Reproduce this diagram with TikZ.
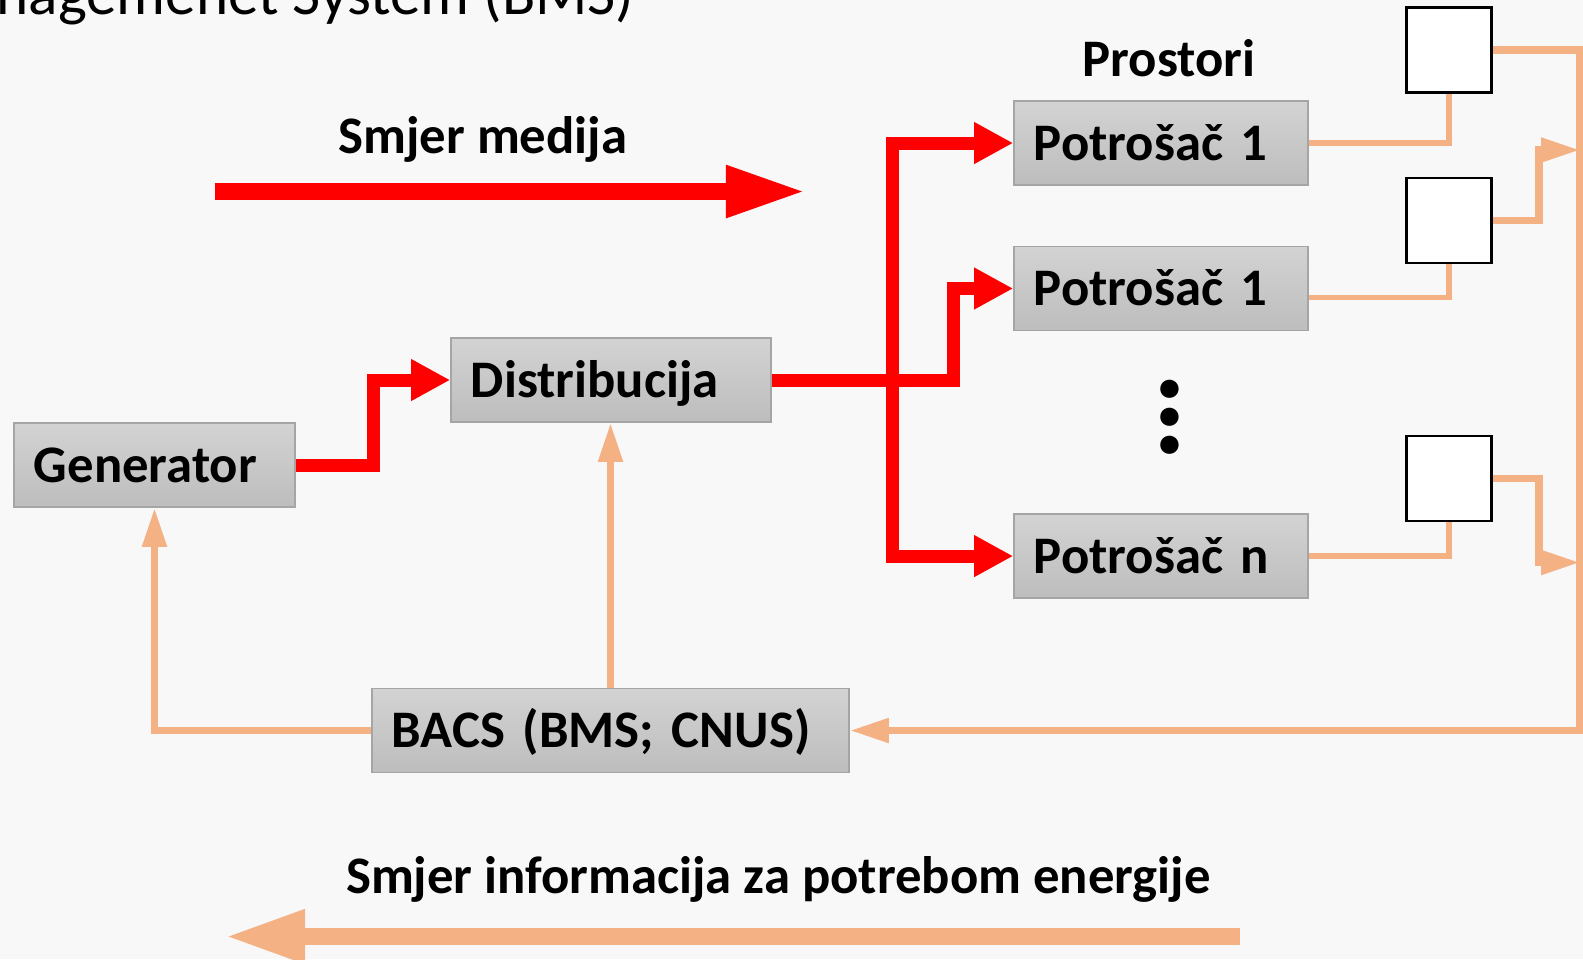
\documentclass[tikz,border=0pt]{standalone}
\usepackage{fontspec}
\setmainfont{Carlito}
\usetikzlibrary{arrows.meta,positioning}
\definecolor{flowred}{RGB}{255,0,0}
\definecolor{infoorange}{RGB}{244,177,131}
\definecolor{boxtop}{RGB}{211,211,211}
\definecolor{boxbottom}{RGB}{189,189,189}
\definecolor{boxedge}{RGB}{165,165,165}
\definecolor{slidebg}{RGB}{248,248,248}
\tikzset{
    block/.style =    {rectangle,
                      top color=boxtop,
                      bottom color=boxbottom,
                      draw=boxedge,
                      line width=0.4pt,
                      text=black,
                      font=\bfseries\fontsize{15}{18}\selectfont,
                      align=left,
                      minimum height=0.84cm,
                      inner xsep=0.2cm,
                      inner ysep=0pt,
                      text height=0.45cm,
                      text depth=0.11cm},
    room/.style =     {rectangle,
                      fill=white,
                      draw=black,
                      line width=0.8pt,
                      minimum size=0.85cm,
                      inner sep=0pt},
    caption/.style =  {font=\bfseries\fontsize{15}{18}\selectfont,
                      text=black,
                      anchor=base,
                      inner sep=0pt},
    heading/.style =  {font=\fontsize{17.4}{20}\selectfont,
                      text=black,
                      anchor=base west,
                      inner sep=0pt},
    flow/.style =     {draw=flowred,
                      line width=3.7pt,
                      line join=miter,
                      -{Triangle[length=11.1pt,width=11.1pt]}},
    info/.style =     {draw=infoorange,
                      line width=2.1pt,
                      line join=miter,
                      -{Triangle[length=11.1pt,width=6.6pt]}},
    infoline/.style = {draw=infoorange,
                      line width=1.55pt,
                      line join=miter},
    bigflow/.style =  {draw=flowred,
                      line width=4.8pt,
                      -{Triangle[length=22.8pt,width=13.7pt]}},
    biginfo/.style =  {draw=infoorange,
                      line width=4.8pt,
                      -{Triangle[length=22.8pt,width=14.2pt]}}
}
\begin{document}
\begin{tikzpicture}[x=0.01cm,y=-0.01cm]
    \useasboundingbox (0,0) rectangle (1583,959);
    \fill[slidebg] (0,0) rectangle (1583,959);

    \node[heading]  (title)  at (-4,14)        {nagemenet System (BMS)};
    \node[caption]  (medija) at (483,153)      {Smjer medija};
    \node[caption]  (prost)  at (1169,76)      {Prostori};
    \node[caption]  (infotx) at (778.5,893)    {Smjer informacija za potrebom energije};

    \node[block, text width=2.41cm] (gen)  at (154.5,465)  {Generator};
    \node[block, text width=2.80cm] (dist) at (611,380)    {Distribucija};
    \node[block, text width=4.37cm] (bacs) at (610.5,730.5) {BACS (BMS; CNUS)};
    \node[block, text width=2.54cm] (p1)   at (1161,143)   {Potrošač 1};
    \node[block, text width=2.54cm] (p2)   [below=0.6cm of p1]  {Potrošač 1};
    \node[block, text width=2.54cm] (pn)   [below=1.82cm of p2] {Potrošač n};
    \node[font=\bfseries\fontsize{35}{8}\selectfont, align=center, inner sep=0pt] (dots) at (1170,417) {.\\.\\.};

    \node[room] (sq1) at (1449,50)    {};
    \node[room] (sq2) at (1449,220.5) {};
    \node[room] (sq3) at (1449,478.5) {};

    \coordinate (mstart) at (215,191.5);
    \coordinate (mend)   at (806,191.5);
    \coordinate (istart) at (1240,936.5);
    \coordinate (iend)   at (225,936.5);
    \coordinate (split)  at (892,380);
    \coordinate (rail)   at (1580,730.5);
    \coordinate (in2)    at (1580,150);
    \coordinate (in3)    at (1580,562.5);

    \draw[bigflow] (mstart) -- (mend);
    \draw[biginfo] (istart) -- (iend);

    \draw[flow] (gen.east) -- ++(78,0) |- (dist.west);
    \draw[flow] (dist.east) -- (split) |- (p1.west);
    \draw[flow] (split) |- (pn.west);
    \draw[flow] (dist.east) -- ++(182,0) |- (p2.west);

    \draw[infoline] (p1.east) -| (sq1.south);
    \draw[infoline] ([yshift=-0.09cm]p2.east) -| (sq2.south);
    \draw[infoline] (pn.east) -| (sq3.south);

    \draw[info] (sq1.east) -| (rail) -- (bacs.east);
    \draw[info] (sq2.east) -- ++(46,0) |- (in2);
    \draw[info] (sq3.east) -- ++(46,0) |- (in3);
    \draw[info] (bacs.north) -- (bacs.north |- dist.south);
    \draw[info] (bacs.west) -| (gen.south);
\end{tikzpicture}
\end{document}
